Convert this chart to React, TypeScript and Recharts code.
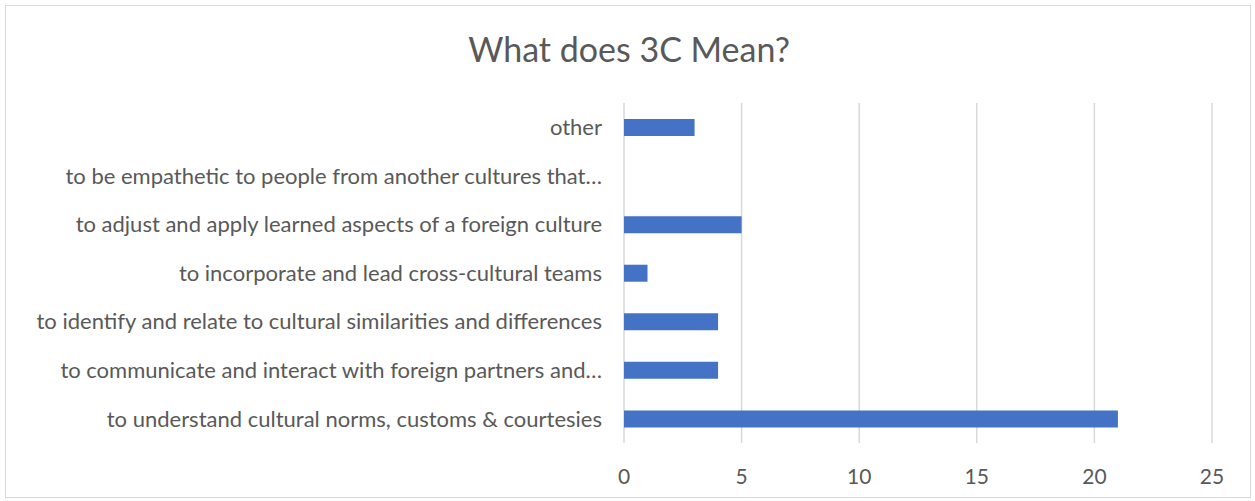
import { BarChart, Bar, XAxis, YAxis, CartesianGrid } from "recharts";

const categories = [
  "other",
  "to be empathetic to  people from another cultures that…",
  "to adjust and apply learned aspects of a foreign culture",
  "to incorporate and lead cross-cultural teams",
  "to identify and relate to cultural similarities and differences",
  "to communicate and interact with foreign partners and…",
  "to understand cultural norms, customs & courtesies",
];

const counts = [3, 0, 5, 1, 4, 4, 21];

const xTicks = [0, 5, 10, 15, 20, 25];

const data = categories.map((name, i) => ({ name, count: counts[i] }));

const FONT = "Lato, 'Open Sans', sans-serif";

export default function App() {
  return (
    <div
      style={{
        position: "fixed",
        left: 0,
        top: 0,
        width: 1255,
        height: 501,
        background: "#fff",
        fontFamily: FONT,
      }}
    >
      <div
        style={{
          position: "absolute",
          left: 5,
          top: 5,
          width: 1244,
          height: 491,
          border: "1px solid #d9d9d9",
        }}
      />
      <div
        style={{
          position: "absolute",
          left: 0,
          top: 28,
          width: 1258,
          textAlign: "center",
          fontSize: 34,
          color: "#595959",
        }}
      >
        What does 3C Mean?
      </div>
      <div style={{ position: "absolute", left: 0, top: 0 }}>
        <BarChart
          layout="vertical"
          width={1255}
          height={501}
          data={data}
          margin={{ top: 103, right: 43, bottom: 18, left: 0 }}
        >
          <CartesianGrid horizontal={false} stroke="#d9d9d9" strokeWidth={1.5} />
          <XAxis
            type="number"
            domain={[0, 25]}
            ticks={xTicks}
            height={40}
            axisLine={false}
            tickLine={false}
            tickMargin={20}
            tick={{ fill: "#595959", fontSize: 21, fontFamily: FONT }}
          />
          <YAxis
            type="category"
            dataKey="name"
            width={624}
            axisLine={false}
            tickLine={false}
            tickMargin={16}
            interval={0}
            tick={{ fill: "#595959", fontSize: 22, fontFamily: FONT }}
          />
          <Bar dataKey="count" fill="#4472c4" barSize={17} isAnimationActive={false} />
        </BarChart>
      </div>
    </div>
  );
}
